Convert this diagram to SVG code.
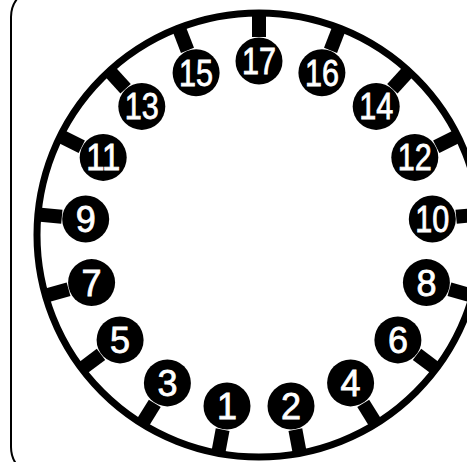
<svg xmlns="http://www.w3.org/2000/svg" width="467" height="462" viewBox="0 0 467 462">
<style>
.frame{fill:none;stroke:#000;stroke-width:2}
.ring{fill:none;stroke:#000;stroke-width:7}
.tick{fill:#000}
.pin circle{fill:#000}
.pin text{fill:#fff;stroke:#fff;stroke-width:0.8;font-family:"Liberation Sans",Arial,sans-serif;font-size:36px;text-anchor:middle}
</style>
<rect width="467" height="462" fill="#fff"/>
<rect class="frame" x="11" y="-13" width="490" height="490" rx="30"/>
<g id="connectors">
<circle class="ring" cx="259" cy="235" r="222"/>
<rect class="tick" x="252" y="13" width="14" height="24" transform="rotate(0 259 235)"/>
<rect class="tick" x="252" y="13" width="14" height="24" transform="rotate(-21.1765 259 235)"/>
<rect class="tick" x="252" y="13" width="14" height="24" transform="rotate(-42.3529 259 235)"/>
<rect class="tick" x="252" y="13" width="14" height="24" transform="rotate(-63.5294 259 235)"/>
<rect class="tick" x="252" y="13" width="14" height="24" transform="rotate(-84.7059 259 235)"/>
<rect class="tick" x="252" y="13" width="14" height="24" transform="rotate(-105.8824 259 235)"/>
<rect class="tick" x="252" y="13" width="14" height="24" transform="rotate(-127.0588 259 235)"/>
<rect class="tick" x="252" y="13" width="14" height="24" transform="rotate(-148.2353 259 235)"/>
<rect class="tick" x="252" y="13" width="14" height="24" transform="rotate(-169.4118 259 235)"/>
<rect class="tick" x="252" y="13" width="14" height="24" transform="rotate(21.1765 259 235)"/>
<rect class="tick" x="252" y="13" width="14" height="24" transform="rotate(42.3529 259 235)"/>
<rect class="tick" x="252" y="13" width="14" height="24" transform="rotate(63.5294 259 235)"/>
<rect class="tick" x="252" y="13" width="14" height="24" transform="rotate(84.7059 259 235)"/>
<rect class="tick" x="252" y="13" width="14" height="24" transform="rotate(105.8824 259 235)"/>
<rect class="tick" x="252" y="13" width="14" height="24" transform="rotate(127.0588 259 235)"/>
<rect class="tick" x="252" y="13" width="14" height="24" transform="rotate(148.2353 259 235)"/>
<rect class="tick" x="252" y="13" width="14" height="24" transform="rotate(169.4118 259 235)"/>
</g>
<g id="pin17" class="pin" transform="translate(259,61)"><circle r="23.5"/><text y="13" textLength="34" lengthAdjust="spacingAndGlyphs">17</text></g>
<g id="pin15" class="pin" transform="translate(196.1,72.8)"><circle r="23.5"/><text y="13" textLength="34" lengthAdjust="spacingAndGlyphs">15</text></g>
<g id="pin13" class="pin" transform="translate(141.8,106.4)"><circle r="23.5"/><text y="13" textLength="34" lengthAdjust="spacingAndGlyphs">13</text></g>
<g id="pin11" class="pin" transform="translate(103.2,157.4)"><circle r="23.5"/><text y="13" textLength="34" lengthAdjust="spacingAndGlyphs">11</text></g>
<g id="pin9" class="pin" transform="translate(85.7,219)"><circle r="23.5"/><text y="13">9</text></g>
<g id="pin7" class="pin" transform="translate(91.6,282.6)"><circle r="23.5"/><text y="13">7</text></g>
<g id="pin5" class="pin" transform="translate(120.1,339.9)"><circle r="23.5"/><text y="13">5</text></g>
<g id="pin3" class="pin" transform="translate(167.4,382.9)"><circle r="23.5"/><text y="13">3</text></g>
<g id="pin1" class="pin" transform="translate(227,406)"><circle r="23.5"/><text y="13">1</text></g>
<g id="pin16" class="pin" transform="translate(321.9,72.8)"><circle r="23.5"/><text y="13" textLength="34" lengthAdjust="spacingAndGlyphs">16</text></g>
<g id="pin14" class="pin" transform="translate(376.2,106.4)"><circle r="23.5"/><text y="13" textLength="34" lengthAdjust="spacingAndGlyphs">14</text></g>
<g id="pin12" class="pin" transform="translate(414.8,157.4)"><circle r="23.5"/><text y="13" textLength="34" lengthAdjust="spacingAndGlyphs">12</text></g>
<g id="pin10" class="pin" transform="translate(432.3,219)"><circle r="23.5"/><text y="13" textLength="34" lengthAdjust="spacingAndGlyphs">10</text></g>
<g id="pin8" class="pin" transform="translate(426.4,282.6)"><circle r="23.5"/><text y="13">8</text></g>
<g id="pin6" class="pin" transform="translate(397.9,339.9)"><circle r="23.5"/><text y="13">6</text></g>
<g id="pin4" class="pin" transform="translate(350.6,382.9)"><circle r="23.5"/><text y="13">4</text></g>
<g id="pin2" class="pin" transform="translate(291,406)"><circle r="23.5"/><text y="13">2</text></g>
</svg>
